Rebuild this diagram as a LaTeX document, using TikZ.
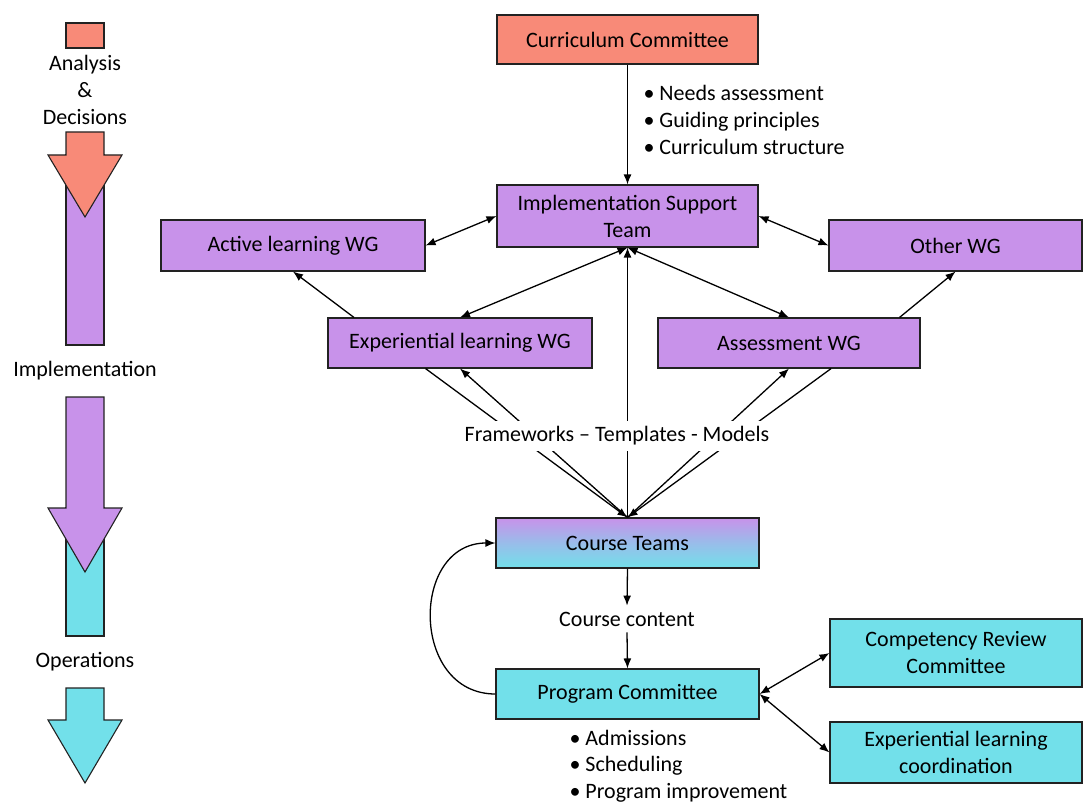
\documentclass[tikz,border=0pt]{standalone}
\usepackage{fontspec}
\setmainfont{Carlito}
\usepackage{xcolor}
\usepackage{tikz}
\usetikzlibrary{calc,arrows.meta}
\definecolor{salmon}{HTML}{F88A78}
\definecolor{lilac}{HTML}{C892EA}
\definecolor{aqua}{HTML}{72E0EA}
\definecolor{edge}{HTML}{222222}
\tikzset{
  box/.style={draw=edge, line width=1.1pt, align=center, inner sep=0pt, font=\fontsize{22}{27}\selectfont},
  boxr/.style={box, fill=salmon},
  boxp/.style={box, fill=lilac},
  boxc/.style={box, fill=aqua},
  conn/.style={draw=black, line width=1.3pt, -{Latex[length=10pt,width=8pt]}},
  both/.style={conn, {Latex[length=10pt,width=8pt]}-{Latex[length=10pt,width=8pt]}},
  band/.style={draw=edge, line width=1.1pt, line join=miter},
  lab/.style={text=black, font=\fontsize{22}{27}\selectfont, align=center},
}
\begin{document}
\begin{tikzpicture}[x=1pt,y=-1pt]
  \useasboundingbox (0,0) rectangle (1083,805);
  % stage arrows on the left
  \filldraw[band, fill=aqua] (66,508) rectangle (104,636);
  \filldraw[band, fill=lilac] (66,155) rectangle (104,345);
  \filldraw[band, fill=salmon] (66,23) rectangle (104,48);
  \filldraw[band, fill=salmon] (66,132) -- (104,132) -- (104,155) -- (122,155) -- (85,217) -- (48,155) -- (66,155) -- cycle;
  \filldraw[band, fill=lilac] (66,397) -- (104,397) -- (104,508) -- (122,508) -- (85,572) -- (48,508) -- (66,508) -- cycle;
  \filldraw[band, fill=aqua] (66,688) -- (104,688) -- (104,720) -- (122,720) -- (85,783) -- (48,720) -- (66,720) -- cycle;
  \node[lab] (ana) at (85,90) {Analysis\\\&\\Decisions};
  \node[lab] (imp) at (85,371) {Implementation};
  \node[lab] (ops) at (85,662) {Operations};

  \node[boxr, minimum width=261pt, minimum height=49pt] (cc) at (627.5,39.5) {Curriculum Committee};
  \node[boxp, minimum width=261pt, minimum height=62pt] (ist) at (627.5,216) {Implementation Support\\Team};
  \node[boxp, minimum width=264pt, minimum height=51pt] (alwg) at (293,245.5) {Active learning WG};
  \node[boxp, minimum width=253pt, minimum height=51pt] (owg) at (955.5,245.5) {Other WG};
  \node[boxp, minimum width=264pt, minimum height=50pt] (ewg) at (460,343) {Experiential learning WG};
  \node[boxp, minimum width=262pt, minimum height=50pt] (awg) at (789,343) {Assessment WG};
  \node[box, top color=lilac, bottom color=aqua, middle color=aqua!55!lilac, minimum width=263pt, minimum height=50pt] (ct) at (627.5,543) {Course Teams};
  \node[boxc, minimum width=263pt, minimum height=50pt] (pc) at (627.5,694) {Program Committee};
  \node[boxc, minimum width=252pt, minimum height=68pt] (crc) at (956,653) {Competency Review\\Committee};
  \node[boxc, minimum width=252pt, minimum height=61pt] (elc) at (956,752.5) {Experiential learning\\coordination};

  \draw[conn] (cc.south) -- (ist.north);
  \node[lab, align=left, anchor=west] (needs) at (640,120) {• Needs assessment\\• Guiding principles\\• Curriculum structure};

  \draw[both] (alwg.east) -- (ist.west);
  \draw[both] (ist.east) -- (owg.west);
  \draw[both] (ist.south) -- (ewg.north);
  \draw[both] (ist.south) -- (awg.north);
  \draw[conn] ($(ewg.north west)!0.1!(ewg.north east)$) -- (alwg.south);
  \draw[conn] ($(awg.north west)!0.92!(awg.north east)$) -- (owg.south);

  % frameworks fan into the course teams
  \draw[conn] ($(ewg.south west)!0.37!(ewg.south east)$) -- (ct.north);
  \draw[conn] (ct.north) -- (ewg.south);
  \draw[conn] ($(awg.south west)!0.66!(awg.south east)$) -- (ct.north);
  \draw[conn] (ct.north) -- (awg.south);
  \draw[conn] (ct.north) -- (ist.south);
  \node[lab, fill=white, inner sep=6pt] (fw) at (617,436) {Frameworks – Templates - Models};

  \node[lab, inner sep=6pt] (cont) at (627,619) {Course content};
  \draw[conn] (ct.south) -- (cont.north);
  \draw[conn] (cont.south) -- (pc.north);
  \draw[conn] (pc.west) to[out=180, in=180, looseness=1.45] (ct.west);
  \node[lab, align=left, anchor=west, font=\fontsize{22}{26.5}\selectfont] (adm) at (566,766) {• Admissions\\• Scheduling\\• Program improvement};

  \draw[both] (pc.east) -- (crc.west);
  \draw[both] (pc.east) -- (elc.west);
\end{tikzpicture}
\end{document}
